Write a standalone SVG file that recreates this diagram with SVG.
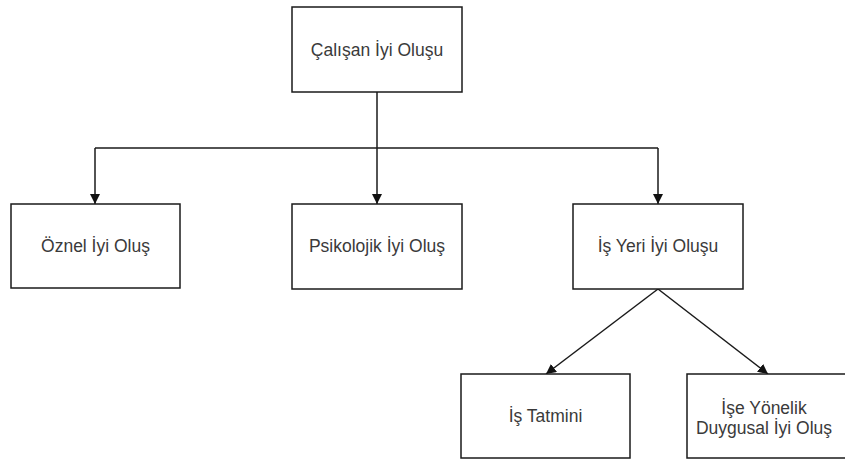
<svg xmlns="http://www.w3.org/2000/svg" width="845" height="459" viewBox="0 0 845 459">
<defs>
<style>
.box{fill:#fff;stroke:#1a1a1a;stroke-width:1.5}
.lbl{font-family:"Liberation Sans",Arial,sans-serif;font-size:17.5px;fill:#3a3a3a;text-anchor:middle}
.edge{fill:none;stroke:#1a1a1a;stroke-width:1.5}
</style>
<marker id="arr" viewBox="0 0 10 10" refX="10" refY="5" markerWidth="10" markerHeight="10" markerUnits="userSpaceOnUse" orient="auto">
<path d="M0,0 L10,5 L0,10 z" fill="#111"/>
</marker>
</defs>
<rect width="845" height="459" fill="#fff"/>
<g id="connectors">
<path class="edge" d="M377,92 V148"/>
<path class="edge" d="M95,148 H658"/>
<path class="edge" d="M95,148 V204" marker-end="url(#arr)"/>
<path class="edge" d="M377,148 V204" marker-end="url(#arr)"/>
<path class="edge" d="M658,148 V204" marker-end="url(#arr)"/>
<path class="edge" d="M658,289 L546,374" marker-end="url(#arr)"/>
<path class="edge" d="M658,289 L768,374" marker-end="url(#arr)"/>
</g>
<g id="n-calisan">
<rect class="box" x="292" y="7" width="170" height="85"/>
<text class="lbl" x="377" y="56">Çalışan İyi Oluşu</text>
</g>
<g id="n-oznel">
<rect class="box" x="11" y="204" width="169" height="84"/>
<text class="lbl" x="95.5" y="252">Öznel İyi Oluş</text>
</g>
<g id="n-psikolojik">
<rect class="box" x="292" y="204" width="170" height="85"/>
<text class="lbl" x="377" y="252">Psikolojik İyi Oluş</text>
</g>
<g id="n-isyeri">
<rect class="box" x="573" y="204" width="170" height="85"/>
<text class="lbl" x="658" y="252">İş Yeri İyi Oluşu</text>
</g>
<g id="n-istatmini">
<rect class="box" x="461" y="374" width="169" height="84"/>
<text class="lbl" x="545.5" y="422">İş Tatmini</text>
</g>
<g id="n-iseyonelik">
<rect class="box" x="687" y="374" width="165" height="84"/>
<text class="lbl" x="764" y="414">İşe Yönelik</text>
<text class="lbl" x="764" y="434">Duygusal İyi Oluş</text>
</g>
</svg>
